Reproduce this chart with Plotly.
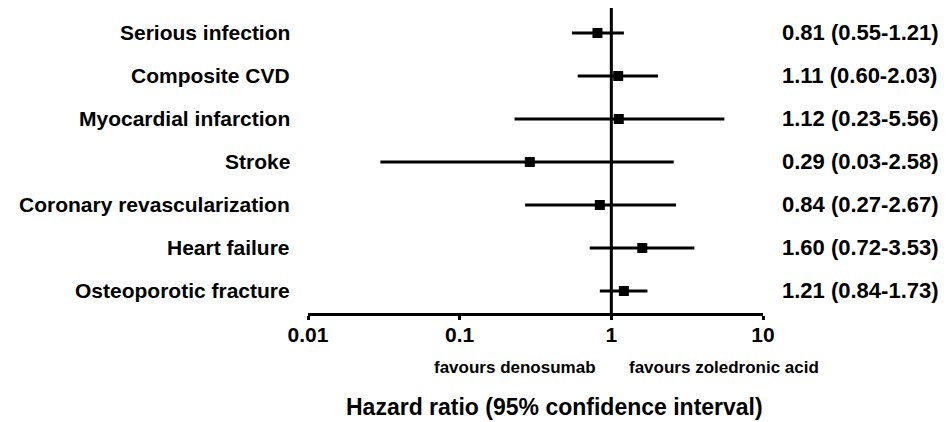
import plotly.graph_objects as go

outcomes = ["Serious infection", "Composite CVD", "Myocardial infarction", "Stroke",
            "Coronary revascularization", "Heart failure", "Osteoporotic fracture"]
hr = [0.81, 1.11, 1.12, 0.29, 0.84, 1.60, 1.21]
lo = [0.55, 0.60, 0.23, 0.03, 0.27, 0.72, 0.84]
hi = [1.21, 2.03, 5.56, 2.58, 2.67, 3.53, 1.73]
labels_right = ["0.81 (0.55-1.21)", "1.11 (0.60-2.03)", "1.12 (0.23-5.56)", "0.29 (0.03-2.58)",
                "0.84 (0.27-2.67)", "1.60 (0.72-3.53)", "1.21 (0.84-1.73)"]
tick_vals = [0.01, 0.1, 1, 10]
tick_text = ["0.01", "0.1", "1", "10"]

FONT = "Liberation Sans, Arial, sans-serif"
rows = list(range(len(outcomes)))

fig = go.Figure()
fig.add_trace(go.Scatter(
    x=hr, y=rows, mode="markers",
    marker=dict(symbol="square", size=10, color="black"),
    error_x=dict(type="data", symmetric=False,
                 array=[h - m for h, m in zip(hi, hr)],
                 arrayminus=[m - l for m, l in zip(hr, lo)],
                 color="black", thickness=3, width=0),
    showlegend=False, hoverinfo="skip",
))

# reference line at HR = 1
fig.add_shape(type="line", xref="x", yref="paper", x0=1, x1=1, y0=0, y1=1,
              line=dict(color="black", width=3), layer="below")

for i, (name, txt) in enumerate(zip(outcomes, labels_right)):
    fig.add_annotation(text=name, xref="paper", yref="y", x=-0.035, y=i,
                       xanchor="right", yanchor="middle", showarrow=False,
                       font=dict(family=FONT, size=21, color="black", weight="bold"))
    fig.add_annotation(text=txt, xref="paper", yref="y", x=1.037, y=i,
                       xanchor="left", yanchor="middle", showarrow=False,
                       font=dict(family=FONT, size=22, color="black", weight="bold"))

fig.add_annotation(text="favours denosumab", xref="paper", yref="paper",
                   x=(598 - 308) / 455, y=-0.180, xanchor="right", yanchor="middle",
                   showarrow=False, font=dict(family=FONT, size=17, color="black", weight="bold"))
fig.add_annotation(text="favours zoledronic acid", xref="paper", yref="paper",
                   x=(627 - 308) / 455, y=-0.180, xanchor="left", yanchor="middle",
                   showarrow=False, font=dict(family=FONT, size=17, color="black", weight="bold"))
fig.add_annotation(text="Hazard ratio (95% confidence interval)", xref="paper", yref="paper",
                   x=0.541, y=-0.308, xanchor="center", yanchor="middle",
                   showarrow=False, font=dict(family=FONT, size=23, color="black", weight="bold"))

fig.update_xaxes(type="log", range=[-2, 1], tickvals=tick_vals, ticktext=tick_text,
                 showline=True, linecolor="black", linewidth=3,
                 ticks="outside", ticklen=4, tickwidth=3, tickcolor="black",
                 ticklabelstandoff=-3,
                 showgrid=False, zeroline=False,
                 tickfont=dict(family=FONT, size=21, color="black", weight="bold"))
fig.update_yaxes(range=[6.512, -0.581], visible=False, showgrid=False, zeroline=False)

# page body adds an 8px offset, so the figure is 8px smaller on each axis
fig.update_layout(width=939, height=414, margin=dict(l=300, r=184, t=0, b=109),
                  plot_bgcolor="white", paper_bgcolor="white",
                  font=dict(family=FONT, color="black"))

fig.write_html("out.html")
